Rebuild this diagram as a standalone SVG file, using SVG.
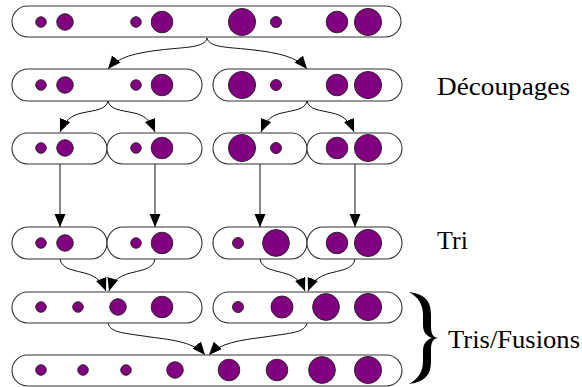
<svg xmlns="http://www.w3.org/2000/svg" width="582" height="387" viewBox="0 0 582 387">
<style>
.box{fill:#fff;stroke:#333;stroke-width:1.1}
.s{fill:#800080;stroke:#222;stroke-width:0.9}
.c{fill:none;stroke:#111;stroke-width:1}
.lbl{font-family:"Liberation Serif","Times New Roman",serif;font-size:26px;fill:#000}
</style>
<defs>
<marker id="ah" markerUnits="userSpaceOnUse" markerWidth="14" markerHeight="12" refX="13" refY="5.5" orient="auto">
<path d="M0,0 L13,5.5 L0,11 Z" fill="#000"/>
</marker>
</defs>
<rect width="582" height="387" fill="#fff"/>
<g id="connectors">
<path class="c" marker-end="url(#ah)" d="M207,38 C205,48 185,47 160,50 C135,53 118,57 108,69"/>
<path class="c" marker-end="url(#ah)" d="M207,38 C209,48 229,47 254,50 C279,53 297,57 307,69"/>
<path class="c" marker-end="url(#ah)" d="M108,101 C106,110 95,110 82,113 C72,115 65,120 60,132"/>
<path class="c" marker-end="url(#ah)" d="M108,101 C110,110 121,110 134,113 C144,115 150,120 155,132"/>
<path class="c" marker-end="url(#ah)" d="M307,101 C305,110 294,110 282,113 C272,115 266,120 261,132"/>
<path class="c" marker-end="url(#ah)" d="M307,101 C309,110 320,110 332,113 C342,115 349,120 354,132"/>
<path class="c" marker-end="url(#ah)" d="M60,164 L60,227"/>
<path class="c" marker-end="url(#ah)" d="M155,164 L155,227"/>
<path class="c" marker-end="url(#ah)" d="M260,164 L260,227"/>
<path class="c" marker-end="url(#ah)" d="M355,164 L355,227"/>
<path class="c" marker-end="url(#ah)" d="M60,259 C62,270 75,270 88,274 C96,277 102,281 106,291"/>
<path class="c" marker-end="url(#ah)" d="M155,259 C153,270 140,270 127,274 C119,277 112,281 109,291"/>
<path class="c" marker-end="url(#ah)" d="M260,259 C262,270 275,270 287,274 C295,277 301,281 305,291"/>
<path class="c" marker-end="url(#ah)" d="M355,259 C353,270 340,270 327,274 C319,277 312,281 308,291"/>
<path class="c" marker-end="url(#ah)" d="M108,323 C110,333 125,333 150,337 C175,340 195,343 205,355"/>
<path class="c" marker-end="url(#ah)" d="M307,323 C305,333 290,333 265,337 C240,340 220,343 209,355"/>
</g>
<g id="row1">
<rect class="box" x="12" y="6" width="389" height="31" rx="15.5"/>
<circle class="s" cx="41" cy="22" r="5.3"/><circle class="s" cx="65" cy="22" r="8.3"/>
<circle class="s" cx="136" cy="22" r="5.3"/><circle class="s" cx="162" cy="22" r="10.8"/>
<circle class="s" cx="242" cy="22" r="13.6"/><circle class="s" cx="276" cy="22" r="5.5"/>
<circle class="s" cx="337" cy="22" r="10.8"/><circle class="s" cx="368" cy="22" r="13.6"/>
</g>
<g id="row2-left">
<rect class="box" x="12" y="69" width="190" height="32" rx="16"/>
<circle class="s" cx="41" cy="85" r="5.3"/><circle class="s" cx="65" cy="85" r="8.3"/>
<circle class="s" cx="136" cy="85" r="5.3"/><circle class="s" cx="162" cy="85" r="10.8"/>
</g>
<g id="row2-right">
<rect class="box" x="213" y="69" width="189" height="32" rx="16"/>
<circle class="s" cx="242" cy="85" r="13.6"/><circle class="s" cx="276" cy="85" r="5.5"/>
<circle class="s" cx="337" cy="85" r="10.8"/><circle class="s" cx="368" cy="85" r="13.6"/>
</g>
<g id="row3-a">
<rect class="box" x="12" y="133" width="95" height="31" rx="15.5"/>
<circle class="s" cx="41" cy="148" r="5.3"/><circle class="s" cx="65" cy="148" r="8.3"/>
</g>
<g id="row3-b">
<rect class="box" x="107" y="133" width="95" height="31" rx="15.5"/>
<circle class="s" cx="136" cy="148" r="5.3"/><circle class="s" cx="162" cy="148" r="10.8"/>
</g>
<g id="row3-c">
<rect class="box" x="213" y="133" width="94" height="31" rx="15.5"/>
<circle class="s" cx="242" cy="148" r="13.6"/><circle class="s" cx="276" cy="148" r="5.5"/>
</g>
<g id="row3-d">
<rect class="box" x="307" y="133" width="95" height="31" rx="15.5"/>
<circle class="s" cx="337" cy="148" r="10.8"/><circle class="s" cx="368" cy="148" r="13.6"/>
</g>
<g id="row4-a">
<rect class="box" x="12" y="227" width="95" height="32" rx="16"/>
<circle class="s" cx="41" cy="243" r="5.3"/><circle class="s" cx="65" cy="243" r="8.3"/>
</g>
<g id="row4-b">
<rect class="box" x="107" y="227" width="95" height="32" rx="16"/>
<circle class="s" cx="136" cy="243" r="5.3"/><circle class="s" cx="162" cy="243" r="10.8"/>
</g>
<g id="row4-c">
<rect class="box" x="213" y="227" width="94" height="32" rx="16"/>
<circle class="s" cx="238" cy="243" r="5.5"/><circle class="s" cx="276" cy="243" r="13.4"/>
</g>
<g id="row4-d">
<rect class="box" x="307" y="227" width="95" height="32" rx="16"/>
<circle class="s" cx="337" cy="243" r="10.8"/><circle class="s" cx="368" cy="243" r="13.6"/>
</g>
<g id="row5-left">
<rect class="box" x="12" y="292" width="190" height="31" rx="15.5"/>
<circle class="s" cx="41" cy="307" r="5.3"/><circle class="s" cx="78" cy="307" r="5.3"/>
<circle class="s" cx="118" cy="307" r="8.3"/><circle class="s" cx="162" cy="307" r="10.8"/>
</g>
<g id="row5-right">
<rect class="box" x="213" y="292" width="189" height="31" rx="15.5"/>
<circle class="s" cx="238" cy="307" r="5.5"/><circle class="s" cx="282" cy="307" r="11"/>
<circle class="s" cx="326" cy="307" r="13.4"/><circle class="s" cx="368" cy="307" r="13.6"/>
</g>
<g id="row6">
<rect class="box" x="12" y="355" width="390" height="31" rx="15.5"/>
<circle class="s" cx="41" cy="370" r="5.3"/><circle class="s" cx="83" cy="370" r="5.3"/>
<circle class="s" cx="126" cy="370" r="5.3"/><circle class="s" cx="175" cy="370" r="8.3"/>
<circle class="s" cx="229" cy="370" r="10.8"/><circle class="s" cx="277" cy="370" r="10.8"/>
<circle class="s" cx="322" cy="370" r="13.4"/><circle class="s" cx="368" cy="370" r="13.6"/>
</g>
<g id="labels">
<text class="lbl" x="437" y="95" textLength="133" lengthAdjust="spacingAndGlyphs">Découpages</text>
<text class="lbl" x="437" y="249">Tri</text>
<path id="brace" fill="#000" d="M409,292 C425,294 431,301 431,315 L431,325 C431,333 432,337 438,338 C432,339 431,343 431,351 L431,361 C431,375 425,382 409,384 C418,379 423,372 423,361 L423,351 C423,344 426,340 432,338 C426,336 423,332 423,325 L423,315 C423,304 418,297 409,292 Z"/>
<text class="lbl" x="448" y="348" textLength="132" lengthAdjust="spacingAndGlyphs">Tris/Fusions</text>
</g>
</svg>
